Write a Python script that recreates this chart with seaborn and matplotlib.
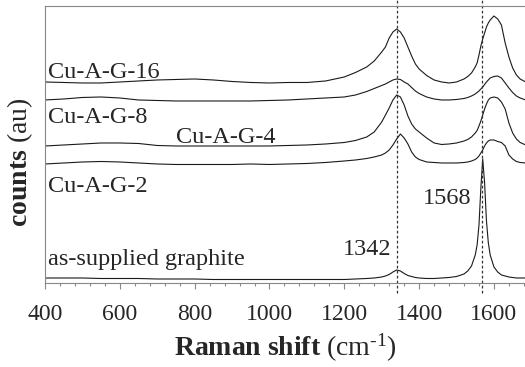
import numpy as np
import pandas as pd
import matplotlib
matplotlib.use("Agg")
import matplotlib.pyplot as plt
import seaborn as sns
from matplotlib.ticker import MultipleLocator

# Raman shift grid (cm-1), shared by all spectra
shift = [400, 450, 500, 550, 600, 650, 700, 750, 800, 850, 900, 950, 1000, 1050,
         1100, 1150, 1200, 1230, 1260, 1280, 1300, 1310, 1320, 1330, 1340, 1350,
         1360, 1370, 1380, 1390, 1400, 1420, 1440, 1460, 1480, 1500, 1520, 1530,
         1540, 1550, 1555, 1560, 1565, 1570, 1575, 1580, 1585, 1590, 1600, 1610,
         1620, 1630, 1640, 1650, 1660, 1670, 1685]

# offset counts (au)
graphite = [5, 5, 5, 4.5, 4.5, 4.5, 4, 4, 4, 3.5, 3.5, 3.5, 3.5, 3.5,
            3.5, 3.5, 3.5, 4, 4.5, 5, 6, 7, 8.5, 11, 13, 12,
            9.5, 7.5, 6.5, 5.5, 5, 4.5, 4.5, 5, 5.5, 6.5, 9, 12,
            17, 28, 38, 58, 95, 124, 100, 62, 40, 28, 16, 11,
            8, 7, 6, 5.5, 5, 5, 5]
cu_ag_2 = [119, 120, 121, 121.5, 121, 120, 119, 118.5, 118.5, 118.5, 118.5, 119, 118.5, 119,
           119.5, 120.5, 122, 123, 124.5, 126, 128, 130, 133, 138, 144, 149,
           145, 139, 131, 126, 123.5, 121, 120.5, 120, 120, 120, 120.5, 121,
           122, 123.5, 125, 127, 130, 133, 137, 140, 142, 143, 143, 141.5,
           140.5, 137, 128, 124, 121.5, 120.5, 120]
cu_ag_4 = [137, 138, 139, 140, 140, 139.5, 137.5, 137, 137, 137, 137, 137, 137, 137.5,
           138, 139, 140.5, 142.5, 146, 151, 161, 168, 175, 183, 188, 186,
           178, 167, 159, 154, 151, 145, 140, 138.5, 139, 140, 142, 143.5,
           146, 150, 152.5, 157, 162, 168, 174, 179, 183, 185, 186, 185,
           181, 174, 160, 150, 144, 140.5, 138]
cu_ag_8 = [183, 184, 185.5, 186, 185, 183, 182.5, 182, 182, 182, 182, 182, 182.5, 183,
           184, 185, 186, 188, 191.5, 194.5, 197.5, 199, 201, 203, 204, 203.5,
           201, 199, 195.5, 192, 189.5, 186, 184, 183, 183, 183.5, 184.5, 185.5,
           187, 189, 190.5, 192, 194, 196, 198.5, 201, 203, 205, 206.5, 207,
           205, 200, 195, 190.5, 187, 185, 183]
cu_ag_16 = [201, 200.5, 200, 200, 201, 202, 203, 203.5, 204, 203, 201.5, 200.5, 200, 200.5,
            200.5, 202, 206, 210.5, 216, 222, 231, 236, 245, 251, 254, 251,
            245, 236, 227, 219, 214, 207.5, 203, 201, 200, 201, 204, 206.5,
            210, 216, 220, 228, 237, 244, 250, 256, 260, 263, 267, 264,
            258, 240, 226, 215, 208, 204, 201]

samples = ["as-supplied graphite", "Cu-A-G-2", "Cu-A-G-4", "Cu-A-G-8", "Cu-A-G-16"]
spectra = [graphite, cu_ag_2, cu_ag_4, cu_ag_8, cu_ag_16]

df = pd.concat([pd.DataFrame({"shift": shift, "counts": s, "sample": name})
                for name, s in zip(samples, spectra)], ignore_index=True)

sns.set_style("ticks")
plt.rcParams["font.family"] = ["Liberation Serif", "DejaVu Serif"]
plt.rcParams["mathtext.fontset"] = "custom"
plt.rcParams["mathtext.rm"] = "Liberation Serif"
plt.rcParams["mathtext.bf"] = "Liberation Serif:bold"
plt.rcParams["mathtext.it"] = "Liberation Serif:italic"

fig = plt.figure(figsize=(5.25, 3.67), dpi=100)
ax = fig.add_axes([0.0857, 0.2289, 1 - 0.0857, 0.9837 - 0.2289])

sns.lineplot(data=df, x="shift", y="counts", hue="sample", units="sample",
             estimator=None, sort=False, palette=["#1a1a1a"] * 5,
             linewidth=0.8, legend=False, ax=ax)

# peak markers
for pos in [1342, 1568]:
    ax.axvline(pos, ymin=-0.036, ymax=1.02, color="#333333", lw=0.9,
               ls=(0, (2.2, 1.8)), clip_on=False)

# sample labels
ax.text(408, 205, "Cu-A-G-16", fontsize=17.5)
ax.text(408, 160, "Cu-A-G-8", fontsize=17.5)
ax.text(750, 140, "Cu-A-G-4", fontsize=17.5)
ax.text(408, 91, "Cu-A-G-2", fontsize=17.5)
ax.text(408, 18, "as-supplied graphite", fontsize=17.5)
ax.text(1260, 28, "1342", fontsize=17.5, ha="center")
ax.text(1474, 79, "1568", fontsize=17.5, ha="center")

ax.set_xlim(400, 1683)
ax.set_ylim(0, 277)
ax.xaxis.set_major_locator(MultipleLocator(200))
ax.xaxis.set_minor_locator(MultipleLocator(40))
ax.set_yticks([])
ax.tick_params(axis="x", which="major", direction="out", length=4.5, width=0.8,
               color="#888888", labelsize=17, pad=10.5)
ax.tick_params(axis="x", which="minor", direction="out", length=2.5, width=0.8,
               color="#888888")
for side in ["left", "top", "bottom"]:
    ax.spines[side].set_color("#888888")
    ax.spines[side].set_linewidth(0.8)
ax.spines["right"].set_visible(False)

ax.set_xlabel(r"$\bf{Raman\ shift}$ (cm$^{\text{-}1}$)", fontsize=20, labelpad=5)
ax.set_ylabel(r"$\bf{counts}$ (au)", fontsize=20)
ax.yaxis.set_label_coords(-0.021, 0.437)

fig.savefig("out.png", dpi=100)
